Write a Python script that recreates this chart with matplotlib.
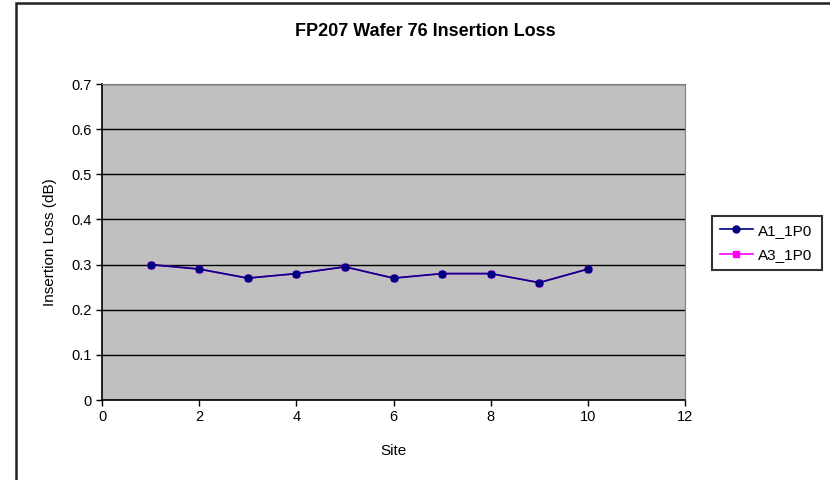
import matplotlib
matplotlib.use("Agg")
import matplotlib.pyplot as plt
from matplotlib.patches import Rectangle

plt.rcParams['font.family'] = ['Liberation Sans', 'DejaVu Sans']

# data
sites = [1, 2, 3, 4, 5, 6, 7, 8, 9, 10]
a1_1p0 = [0.30, 0.29, 0.27, 0.28, 0.295, 0.27, 0.28, 0.28, 0.26, 0.29]
a3_1p0 = [0.30, 0.29, 0.27, 0.28, 0.295, 0.27, 0.28, 0.28, 0.26, 0.29]
series_names = ['A1_1P0', 'A3_1P0']
x_ticks = [0, 2, 4, 6, 8, 10, 12]
y_ticks = [0, 0.1, 0.2, 0.3, 0.4, 0.5, 0.6, 0.7]
y_labels = ['0', '0.1', '0.2', '0.3', '0.4', '0.5', '0.6', '0.7']

fig = plt.figure(figsize=(8.3, 4.8), dpi=100)

# outer chart frame (Excel style)
fig.patches.append(Rectangle((16/830, -0.05), 1.0, 1.05 - 3/480, transform=fig.transFigure,
                             fill=False, edgecolor='#222222', linewidth=1.8))

ax = fig.add_axes([102/830, 80/480, 583/830, 316/480])
ax.set_facecolor('#c0c0c0')

l3, = ax.plot(sites, a3_1p0, color='#ff00ff', marker='s', markersize=4, linewidth=1.2, zorder=3)
l1, = ax.plot(sites, a1_1p0, color='#000080', marker='o', markersize=5, linewidth=1.2, zorder=4)

ax.set_xlim(0, 12)
ax.set_ylim(0, 0.7)
ax.set_xticks(x_ticks)
ax.set_yticks(y_ticks)
ax.set_yticklabels(y_labels)
ax.grid(axis='y', color='black', linewidth=1.0)
ax.set_axisbelow(True)
ax.tick_params(labelsize=10.5, length=4, width=1, direction='out')

for s in ['top', 'right']:
    ax.spines[s].set_color('#808080')
for s in ['left', 'bottom']:
    ax.spines[s].set_color('black')
    ax.spines[s].set_linewidth(1.2)

fig.text(425/830, 1 - 31/480, 'FP207 Wafer 76 Insertion Loss', fontsize=13, fontweight='bold',
         ha='center', va='center')
ax.set_xlabel('Site', fontsize=11, labelpad=14)
ax.set_ylabel('Insertion Loss (dB)', fontsize=11, labelpad=10)

leg = fig.legend([l1, l3], series_names, loc='lower left',
                 bbox_to_anchor=(712/830, 210/480, 110/830, 54/480), mode='expand',
                 frameon=True, fancybox=False, fontsize=11, handlelength=2.2,
                 handletextpad=0.3, borderpad=0.5, labelspacing=0.7, borderaxespad=0)
leg.get_frame().set_edgecolor('black')
leg.get_frame().set_linewidth(1.5)

fig.savefig('out.png', dpi=100)
